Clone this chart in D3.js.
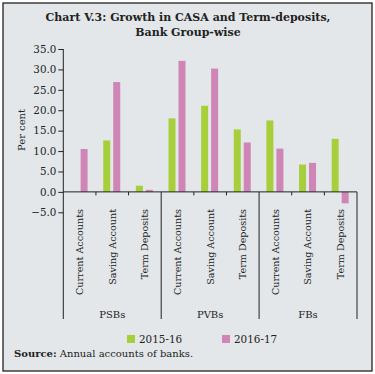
<!DOCTYPE html>
<html>
<head>
<meta charset="utf-8">
<script src="https://cdn.jsdelivr.net/npm/d3@7"></script>
<style>
  html, body { margin: 0; padding: 0; background: #fff; }
  svg { display: block; font-family: "DejaVu Serif", serif; }
</style>
</head>
<body>
<div id="chart"></div>
<script>
// data
const groups = ["PSBs", "PVBs", "FBs"];
const accounts = ["Current Accounts", "Saving Account", "Term Deposits"];
const series = ["2015-16", "2016-17"];
const values1516 = [0.0, 12.6, 1.5, 18.0, 21.1, 15.3, 17.5, 6.7, 13.0];
const values1617 = [10.5, 26.9, 0.5, 32.1, 30.2, 12.1, 10.6, 7.1, -2.8];
const yTicks = [-5, 0, 5, 10, 15, 20, 25, 30, 35];
const colors = ["#a7cf3b", "#cf86b6"];

const width = 375, height = 374;
const margin = { top: 49, right: 18, bottom: 162, left: 63.3 };

// build rows: one per group/account
const rows = [];
groups.forEach((g, gi) => {
    accounts.forEach((a, ai) => {
        const i = gi * accounts.length + ai;
        rows.push({ key: g + "|" + a, group: g, account: a, v: [values1516[i], values1617[i]] });
    });
});

const svg = d3.select("#chart").append("svg")
    .attr("width", width)
    .attr("height", height);

// frame + background
svg.append("rect")
    .attr("x", 3).attr("y", 3)
    .attr("width", 369).attr("height", 368)
    .attr("fill", "#e3e7e9")
    .attr("stroke", "#222")
    .attr("stroke-width", 1.3);

// title
svg.append("text")
    .attr("x", 188).attr("y", 21)
    .attr("text-anchor", "middle")
    .attr("font-weight", "bold")
    .attr("font-size", "11px")
    .attr("fill", "#222")
    .text("Chart V.3: Growth in CASA and Term-deposits,");
svg.append("text")
    .attr("x", 188).attr("y", 36)
    .attr("text-anchor", "middle")
    .attr("font-weight", "bold")
    .attr("font-size", "11px")
    .attr("fill", "#222")
    .text("Bank Group-wise");

const x0 = d3.scaleBand()
    .domain(rows.map(d => d.key))
    .range([margin.left, width - margin.right])
    .padding(0);

const x1 = d3.scaleBand()
    .domain(series)
    .range([7.3, 24.3])
    .paddingInner(0.3)
    .paddingOuter(0);

const y = d3.scaleLinear()
    .domain([-5, 35])
    .range([212.3, 49]);

// y axis
const yAxis = svg.append("g")
    .attr("transform", `translate(${margin.left},0)`)
    .call(d3.axisLeft(y).tickValues(yTicks).tickSize(5).tickPadding(2).tickFormat(d3.format(".1f")));
yAxis.select(".domain").remove();
yAxis.selectAll("line").attr("stroke", "#222");
yAxis.selectAll("text")
    .attr("font-family", "DejaVu Serif")
    .attr("font-size", "10.3px")
    .attr("fill", "#222");

const axisBottomY = 319;
// vertical left axis line (35 down to the bottom of the group labels)
svg.append("line")
    .attr("x1", margin.left).attr("x2", margin.left)
    .attr("y1", y(35)).attr("y2", axisBottomY)
    .attr("stroke", "#222");

// bars
const bars = svg.append("g")
    .selectAll("g")
    .data(rows)
    .join("g")
    .attr("transform", d => `translate(${x0(d.key)},0)`);

bars.selectAll("rect")
    .data(d => d.v.map((v, i) => ({ s: series[i], v, i })))
    .join("rect")
    .attr("x", d => x1(d.s))
    .attr("width", x1.bandwidth())
    .attr("y", d => y(Math.max(0, d.v)))
    .attr("height", d => Math.abs(y(d.v) - y(0)))
    .attr("fill", d => colors[d.i]);

// zero line
svg.append("line")
    .attr("x1", margin.left).attr("x2", width - margin.right)
    .attr("y1", y(0)).attr("y2", y(0))
    .attr("stroke", "#222");

// category ticks and group separators
rows.forEach((d, i) => {
    const xr = x0(d.key) + x0.bandwidth();
    const isGroupEnd = (i + 1) % accounts.length === 0;
    svg.append("line")
        .attr("x1", xr).attr("x2", xr)
        .attr("y1", y(0))
        .attr("y2", isGroupEnd ? axisBottomY : y(0) + 3.5)
        .attr("stroke", "#222");
});

// category labels
svg.append("g")
    .selectAll("text")
    .data(rows)
    .join("text")
    .attr("transform", d => `translate(${x0(d.key) + x0.bandwidth() / 2},209) rotate(-90)`)
    .attr("text-anchor", "end")
    .attr("dy", "0.35em")
    .attr("font-size", "9.6px")
    .attr("fill", "#222")
    .text(d => d.account);

// group labels
svg.append("g")
    .selectAll("text")
    .data(groups)
    .join("text")
    .attr("x", (g, gi) => {
        const first = x0(rows[gi * 3].key);
        const last = x0(rows[gi * 3 + 2].key) + x0.bandwidth();
        return (first + last) / 2;
    })
    .attr("y", 318)
    .attr("text-anchor", "middle")
    .attr("font-size", "10px")
    .attr("fill", "#222")
    .text(g => g);

// y title
svg.append("text")
    .attr("transform", `translate(25,130) rotate(-90)`)
    .attr("text-anchor", "middle")
    .attr("font-size", "10px")
    .attr("fill", "#222")
    .text("Per cent");

// legend
const legendX = [127, 222];
const legend = svg.append("g")
    .selectAll("g")
    .data(series)
    .join("g")
    .attr("transform", (d, i) => `translate(${legendX[i]},335)`);
legend.append("rect")
    .attr("width", 8).attr("height", 8)
    .attr("fill", (d, i) => colors[i]);
legend.append("text")
    .attr("x", 12).attr("y", 8)
    .attr("font-size", "10.4px")
    .attr("fill", "#222")
    .text(d => d);

// source
const src = svg.append("text")
    .attr("x", 14).attr("y", 357)
    .attr("font-size", "10px")
    .attr("fill", "#222");
src.append("tspan").attr("font-weight", "bold").text("Source:");
src.append("tspan").text(" Annual accounts of banks.");
</script>
</body>
</html>
